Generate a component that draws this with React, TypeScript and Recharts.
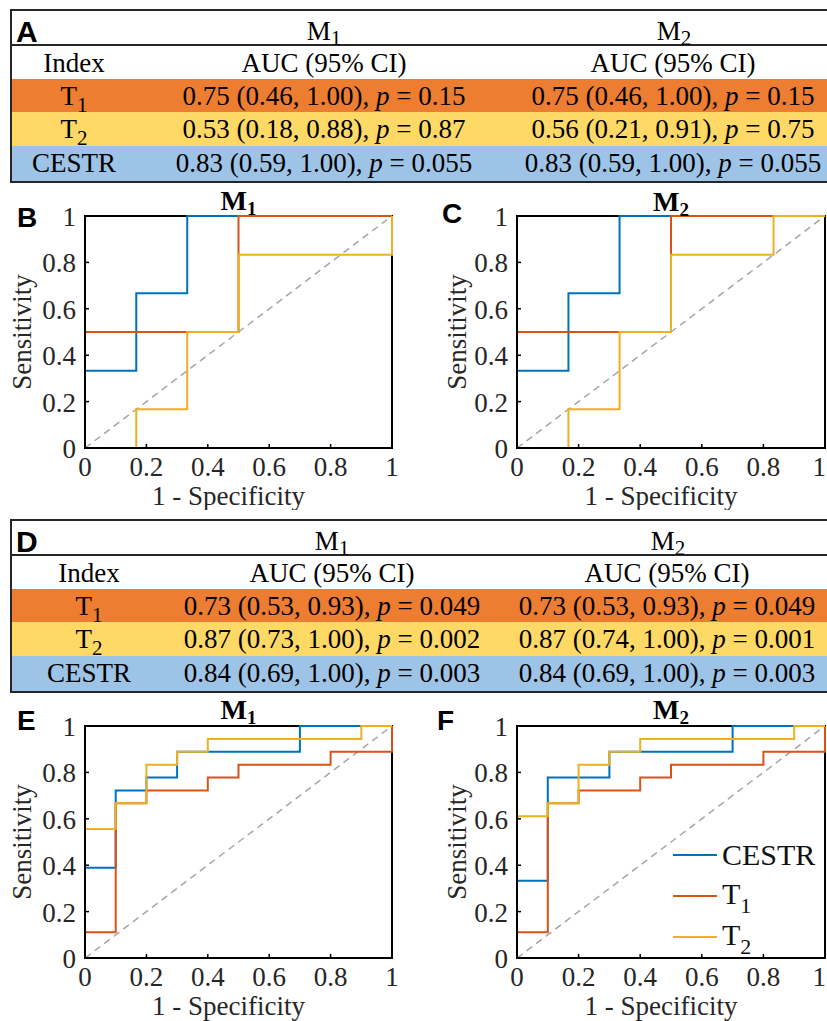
import React from "react";
import { LineChart, Line, XAxis, YAxis, Legend } from "recharts";

const SERIF = '"Liberation Serif", "Times New Roman", serif';
const SANS = '"Liberation Sans", Arial, sans-serif';

const BLUE = "#0072BD";
const RED = "#D95319";
const YELLOW = "#EDB120";
const AXIS = "#000000";

// ---- tables ----
const indexLabels = ["T1", "T2", "CESTR"];
const rowColors = ["#ED7D31", "#FFD966", "#9DC3E6"];

const aM1Auc = ["0.75 (0.46, 1.00)", "0.53 (0.18, 0.88)", "0.83 (0.59, 1.00)"];
const aM1P = ["0.15", "0.87", "0.055"];
const aM2Auc = ["0.75 (0.46, 1.00)", "0.56 (0.21, 0.91)", "0.83 (0.59, 1.00)"];
const aM2P = ["0.15", "0.75", "0.055"];

const dM1Auc = ["0.73 (0.53, 0.93)", "0.87 (0.73, 1.00)", "0.84 (0.69, 1.00)"];
const dM1P = ["0.049", "0.002", "0.003"];
const dM2Auc = ["0.73 (0.53, 0.93)", "0.87 (0.74, 1.00)", "0.84 (0.69, 1.00)"];
const dM2P = ["0.049", "0.001", "0.003"];

// ---- ROC operating points (1 - specificity, sensitivity) ----
const ticks = [0, 0.2, 0.4, 0.6, 0.8, 1];
const chanceX = [0, 1];
const chanceY = [0, 1];

const bCestrFpr = [0, 0, 0.167, 0.333, 1];
const bCestrTpr = [0, 0.333, 0.667, 1, 1];
const bT1Fpr = [0, 0, 0.5, 1];
const bT1Tpr = [0, 0.5, 1, 1];
const bT2Fpr = [0, 0.167, 0.333, 0.5, 1];
const bT2Tpr = [0, 0.167, 0.5, 0.833, 1];

const cCestrFpr = [0, 0, 0.167, 0.333, 1];
const cCestrTpr = [0, 0.333, 0.667, 1, 1];
const cT1Fpr = [0, 0, 0.5, 1];
const cT1Tpr = [0, 0.5, 1, 1];
const cT2Fpr = [0, 0.167, 0.333, 0.5, 0.833, 1];
const cT2Tpr = [0, 0.167, 0.5, 0.833, 1, 1];

const eCestrFpr = [0, 0, 0.1, 0.2, 0.3, 0.7, 1];
const eCestrTpr = [0, 0.389, 0.722, 0.778, 0.889, 1, 1];
const eT1Fpr = [0, 0, 0.1, 0.2, 0.4, 0.5, 0.8, 1];
const eT1Tpr = [0, 0.111, 0.667, 0.722, 0.778, 0.833, 0.889, 1];
const eT2Fpr = [0, 0, 0.1, 0.2, 0.3, 0.4, 0.9, 1];
const eT2Tpr = [0, 0.556, 0.667, 0.833, 0.889, 0.944, 1, 1];

const fCestrFpr = [0, 0, 0.1, 0.3, 0.7, 1];
const fCestrTpr = [0, 0.333, 0.778, 0.889, 1, 1];
const fT1Fpr = [0, 0, 0.1, 0.2, 0.4, 0.5, 0.8, 1];
const fT1Tpr = [0, 0.111, 0.667, 0.722, 0.778, 0.833, 0.889, 1];
const fT2Fpr = [0, 0, 0.1, 0.2, 0.3, 0.4, 0.9, 1];
const fT2Tpr = [0, 0.611, 0.667, 0.833, 0.889, 0.944, 1, 1];

type Curve = { name: string; color: string; fpr: number[]; tpr: number[] };

const toPts = (xs: number[], ys: number[]) => xs.map((x, i) => ({ x, y: ys[i] }));

// "T1" -> T with subscript 1 (svg)
function SvgSub({ text, sub, dy }: { text: string; sub: number; dy: number }) {
  const m = text.match(/^([A-Z]+)(\d)$/);
  if (!m) return <>{text}</>;
  return (
    <>
      <tspan>{m[1]}</tspan>
      <tspan fontSize={sub} dy={dy}>
        {m[2]}
      </tspan>
    </>
  );
}

function HtmlSub({ text }: { text: string }) {
  const m = text.match(/^([A-Z]+)(\d)$/);
  if (!m) return <>{text}</>;
  return (
    <>
      {m[1]}
      <span style={{ fontSize: 22, position: "relative", top: 9 }}>{m[2]}</span>
    </>
  );
}

function AucTable(props: {
  top: number;
  letter: string;
  indexX: number;
  c1: number;
  c2: number;
  h1: number;
  h2: number;
  m1Auc: string[];
  m1P: string[];
  m2Auc: string[];
  m2P: string[];
}) {
  const { top, letter, indexX, c1, c2, h1, h2, m1Auc, m1P, m2Auc, m2P } = props;
  const rowTops = [70, 103, 137];
  const rowBottoms = [103, 137, 172];
  const baselines = [96, 129, 163];
  const fs = 27;
  const cell = (x: number, y: number, auc: string, p: string, k: string) => (
    <text key={k} x={x} y={y} textAnchor="middle" fontFamily={SERIF} fontSize={fs} fill="#000">
      {auc + ", "}
      <tspan fontStyle="italic">p</tspan>
      {" = " + p}
    </text>
  );
  return (
    <svg width={827} height={176} style={{ position: "absolute", left: 0, top }}>
      {rowColors.map((c, i) => (
        <rect key={c} x={10} y={rowTops[i]} width={830} height={rowBottoms[i] - rowTops[i]} fill={c} />
      ))}
      <rect x={11} y={1} width={830} height={172} fill="none" stroke="#262626" strokeWidth={2} />
      <line x1={10} x2={830} y1={36} y2={36} stroke="#262626" strokeWidth={2} />
      <text x={16} y={33} fontFamily={SANS} fontWeight="bold" fontSize={30} fill="#000">
        {letter}
      </text>
      <text x={h1} y={31} textAnchor="middle" fontFamily={SERIF} fontSize={fs}>
        <SvgSub text="M1" sub={21} dy={5} />
      </text>
      <text x={h2} y={31} textAnchor="middle" fontFamily={SERIF} fontSize={fs}>
        <SvgSub text="M2" sub={21} dy={5} />
      </text>
      <text x={indexX} y={63} textAnchor="middle" fontFamily={SERIF} fontSize={fs}>
        Index
      </text>
      <text x={c1} y={63} textAnchor="middle" fontFamily={SERIF} fontSize={fs}>
        AUC (95% CI)
      </text>
      <text x={c2} y={63} textAnchor="middle" fontFamily={SERIF} fontSize={fs}>
        AUC (95% CI)
      </text>
      {indexLabels.map((lab, i) => (
        <text key={lab} x={indexX} y={baselines[i]} textAnchor="middle" fontFamily={SERIF} fontSize={fs}>
          <SvgSub text={lab} sub={21} dy={7} />
        </text>
      ))}
      {m1Auc.map((a, i) => cell(c1, baselines[i], a, m1P[i], "l" + i))}
      {m2Auc.map((a, i) => cell(c2, baselines[i], a, m2P[i], "r" + i))}
    </svg>
  );
}

// bottom ticks point inward; a label that would run past the chart edge is right-aligned
const makeXTick = (chartWidth: number) => (p: any) => {
  const label = String(p.payload.value);
  const overflow = p.x + 7 > chartWidth;
  return (
    <g>
      <line x1={p.x} x2={p.x} y1={p.y} y2={p.y - 4} stroke={AXIS} strokeWidth={1.5} />
      <text
        x={overflow ? chartWidth - 1 : p.x}
        y={p.y + 28}
        textAnchor={overflow ? "end" : "middle"}
        fontFamily={SERIF}
        fontSize={27}
        fill="#262626"
      >
        {label}
      </text>
    </g>
  );
};

const YTick = (p: any) => (
  <g>
    <line x1={p.x} x2={p.x + 4} y1={p.y} y2={p.y} stroke={AXIS} strokeWidth={1.5} />
    <text x={p.x - 9} y={p.y + 10} textAnchor="end" fontFamily={SERIF} fontSize={27} fill="#262626">
      {String(p.payload.value)}
    </text>
  </g>
);

const LegendBox = (props: any) => {
  const items = (props.payload || []).filter((e: any) => e.value !== "chance");
  return (
    <div>
      {items.map((e: any) => (
        <div key={e.value} style={{ display: "flex", alignItems: "center", height: 41 }}>
          <div style={{ width: 44, height: 2, background: e.color }} />
          <span
            style={{ marginLeft: 5, fontFamily: SERIF, fontSize: 30, lineHeight: "30px", color: "#111", whiteSpace: "nowrap" }}
          >
            <HtmlSub text={e.value} />
          </span>
        </div>
      ))}
    </div>
  );
};

function RocPanel(props: {
  left: number;
  top: number;
  width: number;
  height: number;
  plotLeft: number;
  plotRight: number;
  letter: string;
  letterX: number;
  letterY: number;
  title: string;
  titleY: number;
  yLabelX: number;
  curves: Curve[];
  legend?: boolean;
}) {
  const { left, top, width, height, plotLeft, plotRight, letter, letterX, letterY, title, titleY, yLabelX, curves, legend } =
    props;
  const plotTop = 36;
  const plotBottom = 268;
  const midX = (plotLeft + plotRight) / 2;
  const midY = (plotTop + plotBottom) / 2;
  const boxLine = { stroke: AXIS, strokeWidth: 2 };
  return (
    <div style={{ position: "absolute", left, top, width, height }}>
      <svg width={width} height={height} style={{ position: "absolute", left: 0, top: 0 }}>
        <rect
          x={plotLeft}
          y={plotTop}
          width={plotRight - plotLeft}
          height={plotBottom - plotTop}
          fill="none"
          stroke={AXIS}
          strokeWidth={2}
        />
      </svg>
      <div style={{ position: "absolute", left: 0, top: 0 }}>
        <LineChart
          width={width}
          height={height}
          margin={{ top: plotTop, right: width - plotRight, bottom: 2, left: 5 }}
          style={{ background: "transparent" }}
        >
          <XAxis
            dataKey="x"
            type="number"
            domain={[0, 1]}
            ticks={ticks}
            interval={0}
            stroke={AXIS}
            axisLine={boxLine}
            tickLine={false}
            tickSize={0}
            tickMargin={0}
            height={height - 2 - plotBottom}
            tick={makeXTick(width)}
            label={() => (
              <text x={midX - 10} y={plotBottom + 57} textAnchor="middle" fontFamily={SERIF} fontSize={27} fill="#262626">
                1 - Specificity
              </text>
            )}
          />
          <XAxis
            xAxisId="top"
            orientation="top"
            dataKey="x"
            type="number"
            domain={[0, 1]}
            ticks={ticks}
            height={0}
            stroke={AXIS}
            axisLine={boxLine}
            tickLine={false}
            tick={false}
          />
          <YAxis
            dataKey="y"
            type="number"
            domain={[0, 1]}
            ticks={ticks}
            interval={0}
            stroke={AXIS}
            axisLine={boxLine}
            tickLine={false}
            tickSize={0}
            tickMargin={0}
            width={plotLeft - 5}
            tick={YTick}
            label={() => (
              <text
                x={yLabelX}
                y={midY}
                transform={`rotate(-90 ${yLabelX} ${midY})`}
                textAnchor="middle"
                dominantBaseline="central"
                fontFamily={SERIF}
                fontSize={27}
                fill="#262626"
              >
                Sensitivity
              </text>
            )}
          />
          <YAxis
            yAxisId="right"
            orientation="right"
            dataKey="y"
            type="number"
            domain={[0, 1]}
            ticks={ticks}
            width={0}
            stroke={AXIS}
            axisLine={boxLine}
            tickLine={false}
            tick={false}
          />
          <Line
            data={toPts(chanceX, chanceY)}
            dataKey="y"
            name="chance"
            legendType="none"
            type="linear"
            stroke="#a6a6a6"
            strokeWidth={1.5}
            strokeDasharray="7 5"
            dot={false}
            activeDot={false}
            isAnimationActive={false}
          />
          {curves.map((c) => (
            <Line
              key={c.name}
              data={toPts(c.fpr, c.tpr)}
              dataKey="y"
              name={c.name}
              type="stepAfter"
              stroke={c.color}
              strokeWidth={2}
              dot={false}
              activeDot={false}
              isAnimationActive={false}
            />
          ))}
          {legend && (
            <Legend
              layout="vertical"
              align="center"
              verticalAlign="middle"
              content={LegendBox}
              wrapperStyle={{ left: 253, top: 144, width: 150, height: 123 }}
            />
          )}
        </LineChart>
      </div>
      <svg width={width} height={height} style={{ position: "absolute", left: 0, top: 0, pointerEvents: "none" }}>
        <text x={letterX} y={letterY} fontFamily={SANS} fontWeight="bold" fontSize={28} fill="#000">
          {letter}
        </text>
        <text x={midX} y={titleY} textAnchor="middle" fontFamily={SERIF} fontWeight="bold" fontSize={28} fill="#000">
          <SvgSub text={title} sub={19} dy={5} />
        </text>
      </svg>
    </div>
  );
}

export default function App() {
  const bCurves: Curve[] = [
    { name: "CESTR", color: BLUE, fpr: bCestrFpr, tpr: bCestrTpr },
    { name: "T1", color: RED, fpr: bT1Fpr, tpr: bT1Tpr },
    { name: "T2", color: YELLOW, fpr: bT2Fpr, tpr: bT2Tpr },
  ];
  const cCurves: Curve[] = [
    { name: "CESTR", color: BLUE, fpr: cCestrFpr, tpr: cCestrTpr },
    { name: "T1", color: RED, fpr: cT1Fpr, tpr: cT1Tpr },
    { name: "T2", color: YELLOW, fpr: cT2Fpr, tpr: cT2Tpr },
  ];
  const eCurves: Curve[] = [
    { name: "CESTR", color: BLUE, fpr: eCestrFpr, tpr: eCestrTpr },
    { name: "T1", color: RED, fpr: eT1Fpr, tpr: eT1Tpr },
    { name: "T2", color: YELLOW, fpr: eT2Fpr, tpr: eT2Tpr },
  ];
  const fCurves: Curve[] = [
    { name: "CESTR", color: BLUE, fpr: fCestrFpr, tpr: fCestrTpr },
    { name: "T1", color: RED, fpr: fT1Fpr, tpr: fT1Tpr },
    { name: "T2", color: YELLOW, fpr: fT2Fpr, tpr: fT2Tpr },
  ];

  return (
    <div
      style={{
        position: "absolute",
        left: 0,
        top: 0,
        width: 827,
        height: 1021,
        overflow: "hidden",
        background: "#fff",
      }}
    >
      <AucTable
        top={9}
        letter="A"
        indexX={74}
        c1={324}
        c2={673}
        h1={324}
        h2={674}
        m1Auc={aM1Auc}
        m1P={aM1P}
        m2Auc={aM2Auc}
        m2P={aM2P}
      />
      <RocPanel
        left={0}
        top={180}
        width={420}
        height={330}
        plotLeft={85}
        plotRight={392}
        letter="B"
        letterX={17}
        letterY={47}
        title="M1"
        titleY={30}
        yLabelX={22}
        curves={bCurves}
      />
      <RocPanel
        left={420}
        top={180}
        width={407}
        height={330}
        plotLeft={97}
        plotRight={405}
        letter="C"
        letterX={22}
        letterY={43}
        title="M2"
        titleY={31}
        yLabelX={37}
        curves={cCurves}
      />
      <AucTable
        top={519}
        letter="D"
        indexX={89}
        c1={332}
        c2={667}
        h1={332}
        h2={668}
        m1Auc={dM1Auc}
        m1P={dM1P}
        m2Auc={dM2Auc}
        m2P={dM2P}
      />
      <RocPanel
        left={0}
        top={690}
        width={420}
        height={331}
        plotLeft={85}
        plotRight={392}
        letter="E"
        letterX={17}
        letterY={40}
        title="M1"
        titleY={29}
        yLabelX={22}
        curves={eCurves}
      />
      <RocPanel
        left={420}
        top={690}
        width={407}
        height={331}
        plotLeft={97}
        plotRight={405}
        letter="F"
        letterX={17}
        letterY={40}
        title="M2"
        titleY={29}
        yLabelX={37}
        curves={fCurves}
        legend
      />
    </div>
  );
}
